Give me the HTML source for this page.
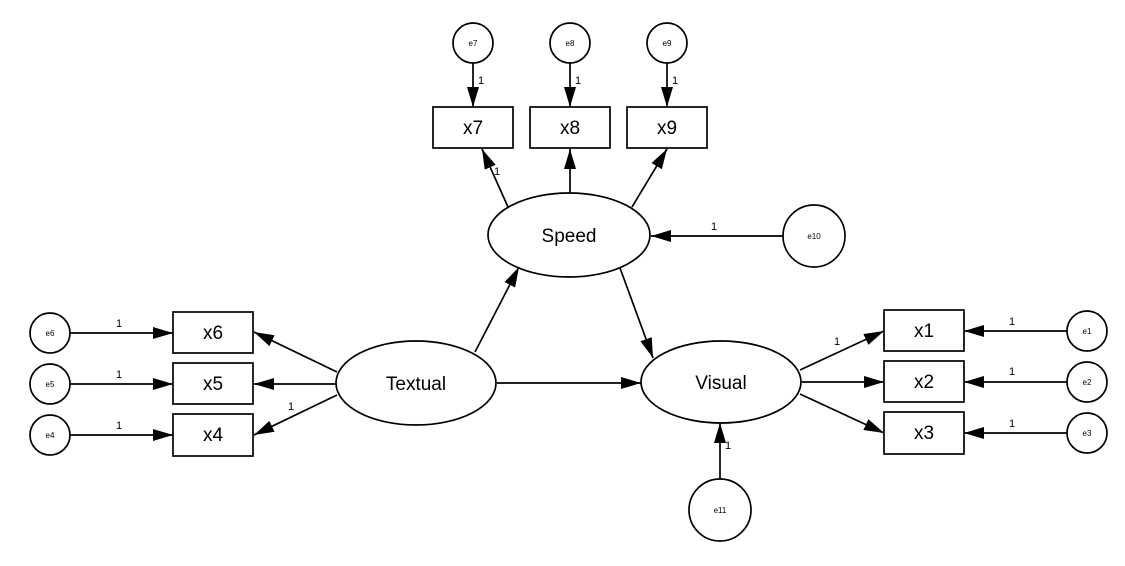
<!DOCTYPE html>
<html><head><meta charset="utf-8"><style>
html,body{margin:0;padding:0;background:#fff;}
svg{display:block;}
text{font-family:"Liberation Sans",Arial,sans-serif;fill:#000;}
.n{font-size:19px;}
.s{font-size:8px;}
.o{font-size:11px;}
</style></head><body>
<svg width="1125" height="566" viewBox="0 0 1125 566" xmlns="http://www.w3.org/2000/svg">
<defs>
<marker id="a" viewBox="0 0 20 12" refX="20" refY="6" markerWidth="20" markerHeight="12" markerUnits="userSpaceOnUse" orient="auto">
<path d="M0,0 L20,6 L0,12 z" fill="#000"/>
</marker>
</defs>
<g stroke="#000" stroke-width="1.7" fill="#fff">
<circle cx="473" cy="43" r="20"/>
<circle cx="570" cy="43" r="20"/>
<circle cx="667" cy="43" r="20"/>
<circle cx="50" cy="333" r="20"/>
<circle cx="50" cy="384" r="20"/>
<circle cx="50" cy="435" r="20"/>
<circle cx="1087" cy="331" r="20"/>
<circle cx="1087" cy="382" r="20"/>
<circle cx="1087" cy="433" r="20"/>
<circle cx="814" cy="236" r="31"/>
<circle cx="720" cy="510" r="31"/>
<rect x="433" y="107" width="80" height="41"/>
<rect x="530" y="107" width="80" height="41"/>
<rect x="627" y="107" width="80" height="41"/>
<rect x="173" y="312" width="80" height="41"/>
<rect x="173" y="363" width="80" height="41"/>
<rect x="173" y="414" width="80" height="42"/>
<rect x="884" y="310" width="80" height="41"/>
<rect x="884" y="361" width="80" height="41"/>
<rect x="884" y="412" width="80" height="42"/>
<ellipse cx="569" cy="235" rx="81" ry="42"/>
<ellipse cx="416" cy="383" rx="80" ry="42"/>
<ellipse cx="721" cy="382" rx="80" ry="41"/>
</g>
<g stroke="#000" stroke-width="1.7" fill="none" marker-end="url(#a)">
<line x1="473" y1="63" x2="473" y2="107"/>
<line x1="570" y1="63" x2="570" y2="107"/>
<line x1="667" y1="63" x2="667" y2="107"/>
<line x1="508" y1="207" x2="482" y2="149"/>
<line x1="570" y1="193" x2="570" y2="149"/>
<line x1="632" y1="207" x2="667" y2="149"/>
<line x1="783" y1="236" x2="651" y2="236"/>
<line x1="70" y1="333" x2="173" y2="333"/>
<line x1="70" y1="384" x2="173" y2="384"/>
<line x1="70" y1="435" x2="173" y2="435"/>
<line x1="337" y1="372" x2="254" y2="332"/>
<line x1="336" y1="384" x2="254" y2="384"/>
<line x1="337" y1="395" x2="254" y2="435"/>
<line x1="475" y1="352" x2="519" y2="267"/>
<line x1="620" y1="268" x2="653" y2="358"/>
<line x1="497" y1="383" x2="641" y2="383"/>
<line x1="800" y1="370" x2="884" y2="331"/>
<line x1="802" y1="382" x2="884" y2="382"/>
<line x1="800" y1="394" x2="884" y2="433"/>
<line x1="1067" y1="331" x2="964" y2="331"/>
<line x1="1067" y1="382" x2="964" y2="382"/>
<line x1="1067" y1="433" x2="964" y2="433"/>
<line x1="720" y1="479" x2="720" y2="423"/>
</g>
<g text-anchor="middle">
<text class="s" x="473" y="46">e7</text>
<text class="s" x="570" y="46">e8</text>
<text class="s" x="667" y="46">e9</text>
<text class="s" x="50" y="336">e6</text>
<text class="s" x="50" y="387">e5</text>
<text class="s" x="50" y="438">e4</text>
<text class="s" x="1087" y="334">e1</text>
<text class="s" x="1087" y="385">e2</text>
<text class="s" x="1087" y="436">e3</text>
<text class="s" x="814" y="239">e10</text>
<text class="s" x="720" y="513">e11</text>
<text class="n" x="473" y="134">x7</text>
<text class="n" x="570" y="134">x8</text>
<text class="n" x="667" y="134">x9</text>
<text class="n" x="213" y="339">x6</text>
<text class="n" x="213" y="390">x5</text>
<text class="n" x="213" y="441">x4</text>
<text class="n" x="924" y="337">x1</text>
<text class="n" x="924" y="388">x2</text>
<text class="n" x="924" y="439">x3</text>
<text class="n" x="569" y="242">Speed</text>
<text class="n" x="416" y="390">Textual</text>
<text class="n" x="721" y="389">Visual</text>
<text class="o" x="481" y="84">1</text>
<text class="o" x="578" y="84">1</text>
<text class="o" x="675" y="84">1</text>
<text class="o" x="497" y="175">1</text>
<text class="o" x="714" y="230">1</text>
<text class="o" x="119" y="327">1</text>
<text class="o" x="119" y="378">1</text>
<text class="o" x="119" y="429">1</text>
<text class="o" x="291" y="410">1</text>
<text class="o" x="837" y="345">1</text>
<text class="o" x="1012" y="325">1</text>
<text class="o" x="1012" y="375">1</text>
<text class="o" x="1012" y="427">1</text>
<text class="o" x="728" y="449">1</text>
</g>
</svg>
</body></html>
